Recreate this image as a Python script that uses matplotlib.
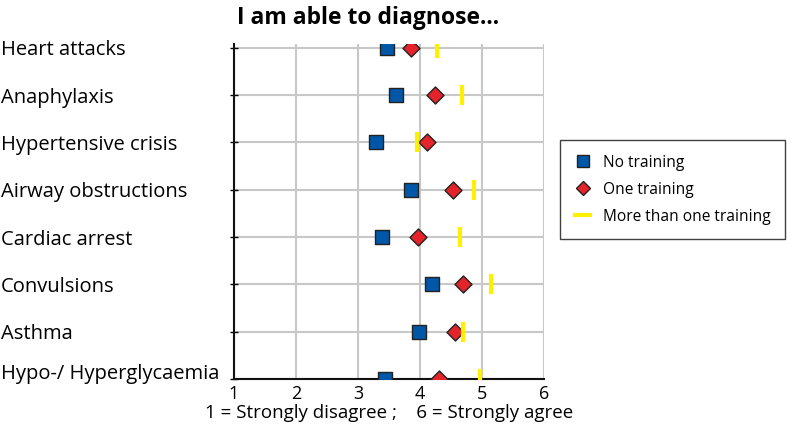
"""Diagnosis self-assessment by amount of training (dot plot)."""
import matplotlib.pyplot as plt
from matplotlib.lines import Line2D

categories = [
    "Heart attacks",
    "Anaphylaxis",
    "Hypertensive crisis",
    "Airway obstructions",
    "Cardiac arrest",
    "Convulsions",
    "Asthma",
    "Hypo-/ Hyperglycaemia",
]
no_training = [3.47, 3.61, 3.29, 3.86, 3.39, 4.20, 3.99, 3.44]
one_training = [3.86, 4.25, 4.11, 4.53, 3.97, 4.70, 4.57, 4.31]
more_training = [4.27, 4.68, 3.96, 4.87, 4.65, 5.14, 4.69, 4.97]
x_ticks = [1, 2, 3, 4, 5, 6]

BLUE = "#0057a8"
RED = "#e5232b"
YELLOW = "#fff000"
EDGE = "#222222"
GRID = "#c8c8c8"

plt.rcParams["font.family"] = ["Open Sans", "DejaVu Sans"]

fig = plt.figure(figsize=(7.87, 4.32), dpi=100)
ax = fig.add_axes([0.2973, 0.1227, 0.3939, 0.7754])

n = len(categories)
ypos = [n - 1 - i for i in range(n)]

ax.scatter(no_training, ypos, marker="s", s=110, color=BLUE,
           edgecolor=EDGE, linewidths=1.0, zorder=3)
ax.scatter(one_training, ypos, marker="D", s=75, color=RED,
           edgecolor=EDGE, linewidths=1.0, zorder=4)
ax.plot(more_training, ypos, linestyle="none", marker="|", markersize=15,
        markeredgewidth=3, color=YELLOW, zorder=5)

ax.set_xlim(1, 6)
ax.set_ylim(0, 7.08)
ax.set_xticks(x_ticks)
ax.set_xticklabels([str(t) for t in x_ticks], fontsize=13)
ax.set_yticks(ypos)
ax.set_yticklabels(categories, fontsize=14.5, ha="left")
# labels are left aligned at the figure edge; pad is in points
ax.tick_params(axis="y", pad=165, direction="inout", length=6, width=1)
ax.tick_params(axis="x", length=0, pad=4)
# bottom label sits on its gridline, like the original
ax.get_yticklabels()[-1].set_va("baseline")

ax.grid(True, color=GRID, lw=1.5)
ax.set_axisbelow(True)
for spine in ("top", "right"):
    ax.spines[spine].set_visible(False)
for spine in ("left", "bottom"):
    ax.spines[spine].set_color("#111111")
    ax.spines[spine].set_linewidth(1.5)

ax.set_xlabel("1 = Strongly disagree ;    6 = Strongly agree", fontsize=13.5,
              labelpad=1)
fig.text(0.468, 0.958, "I am able to diagnose...", fontsize=16.5,
         weight="bold", ha="center", va="center")

handles = [
    Line2D([], [], marker="s", linestyle="none", markersize=8.5,
           markerfacecolor=BLUE, markeredgecolor=EDGE),
    Line2D([], [], marker="D", linestyle="none", markersize=7.5,
           markerfacecolor=RED, markeredgecolor=EDGE),
    Line2D([], [], color=YELLOW, lw=3),
]
labels = ["No training", "One training", "More than one training"]
leg = fig.legend(handles, labels, loc="upper left",
                 bbox_to_anchor=(0.7116, 0.676), borderaxespad=0,
                 fontsize=11.2, frameon=True, fancybox=False,
                 handlelength=1.0, borderpad=0.95, labelspacing=0.7,
                 handletextpad=0.8)
leg.get_frame().set_edgecolor("#111111")
leg.get_frame().set_linewidth(1.0)

fig.savefig("out.png", dpi=100)
